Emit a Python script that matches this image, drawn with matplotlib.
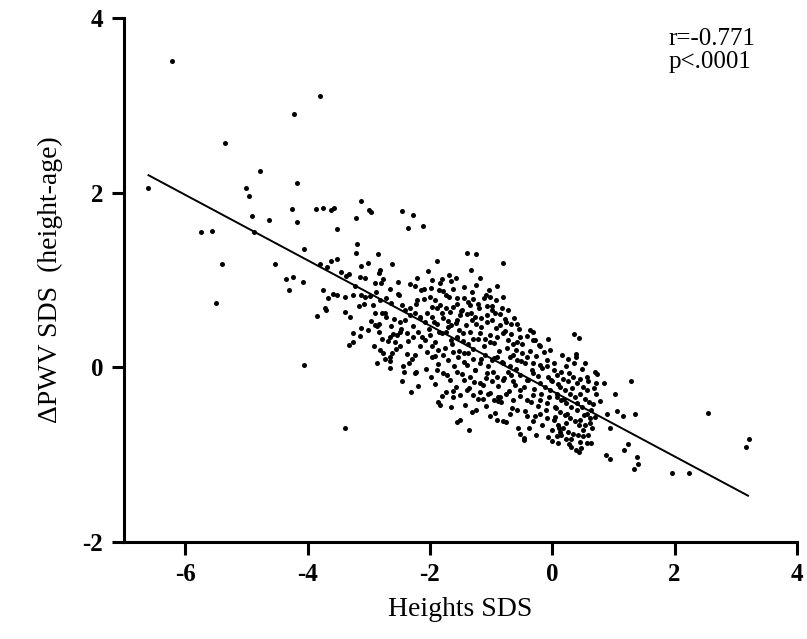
import matplotlib
matplotlib.use("Agg")
import matplotlib.pyplot as plt

plt.rcParams['font.family'] = ['Liberation Serif', 'DejaVu Serif']
plt.rcParams['axes.unicode_minus'] = False

# sparse points on the left / top
x_out = [-6.22, -3.79, -4.22, -5.35, -4.78, -4.17, -6.61, -5.00, -4.96, -4.91, -4.63,
         -4.26, -4.17, -5.75, -5.56, -5.40, -4.88, -4.54, -4.35, -4.23, -4.30, -5.50]
y_out = [3.51, 3.11, 2.90, 2.57, 2.25, 2.11, 2.05, 2.05, 1.96, 1.73, 1.69,
         1.81, 1.66, 1.55, 1.56, 1.18, 1.55, 1.18, 1.01, 1.03, 0.89, 0.74]

# main cloud, x < 0
x_a = [-3.87, -3.75, -3.61, -3.56, -3.21, -3.13, -3.00, -2.97, -2.45, -2.27, -2.36, -2.11, -3.52,
       -4.06, -3.20, -3.21, -2.85, -1.40, -1.25, -1.88, -0.80, -3.62, -3.52, -3.79, -3.68, -3.12, -2.62,
       -4.07, -3.46, -3.32, -3.14, -3.06, -2.84, -2.81, -2.90, -2.80, -2.52, -2.21, -2.03, -1.33, -1.96,
       -1.81, -1.65, -1.58, -2.25, -2.15, -2.10,
       -3.75, -3.58, -3.39, -3.66, -3.52, -3.25, -3.12, -3.06, -2.98, -2.82, -2.72, -2.63, -2.52, -2.46,
       -2.33, -2.21, -2.00, -1.92, -1.85, -1.78, -1.69, -1.56, -1.44, -1.30, -1.08, -1.02, -0.92, -1.97,
       -1.84, -1.73, -1.62, -1.48, -1.35, -1.21, -1.07, -0.99, -0.83,
       -3.72, -3.70, -3.85, -3.39, -3.16, -2.93, -2.90, -2.79, -2.71, -2.63, -2.49, -2.41, -2.33, -2.25,
       -2.16, -2.08, -1.97, -1.89, -1.81, -1.70, -1.65, -1.56, -1.51, -1.40, -1.32, -1.24, -1.16, -1.07,
       -0.99, -0.94, -0.86, -0.75, -0.67, -0.58, -2.90, -2.84,
       -3.12, -3.25, -3.33, -3.25, -3.01, -2.87, -2.79, -2.65, -2.54, -2.57, -2.49, -2.38, -2.27, -2.19,
       -2.08, -2.00, -1.92, -1.81, -1.73, -1.65, -1.56, -1.46, -1.37, -1.29, -1.18, -1.10, -1.02, -0.91,
       -0.80, -0.72, -0.64, -0.53, -0.37, -0.31, -0.20, -0.07,
       -4.06, -2.86, -2.82, -2.76, -2.65, -2.49, -2.38, -2.24, -2.16, -2.05, -1.97, -1.86, -1.78, -1.70,
       -1.62, -1.54, -1.45, -1.37, -1.29, -1.18, -1.10, -0.99, -0.91, -0.80, -0.69, -0.58, -0.50, -0.42,
       -0.31, -0.20, -0.09, -2.73, -2.65, -2.44, -2.35,
       -2.65, -2.45, -2.24, -2.22, -1.99, -1.89, -1.78, -1.67, -1.56, -1.45, -1.35, -1.26, -1.18, -1.07,
       -0.99, -0.91, -0.80, -0.72, -0.64, -0.53, -0.42, -0.31, -0.20, -0.07,
       -1.73, -1.62, -1.51, -1.40, -1.29, -1.18, -1.13, -1.05, -0.96, -0.86, -0.75, -0.64, -0.53, -0.42,
       -0.31, -0.20, -0.09, -1.84, -0.88,
       -1.24, -1.02, -0.91, -0.80, -0.69, -0.58, -0.42, -0.31, -0.20, -0.09, -1.56, -1.36, -0.53, -0.47,
       -0.26, -3.39]
y_a = [1.81, 1.83, 1.80, 1.82, 1.71, 1.91, 1.80, 1.78, 1.79, 1.74, 1.60, 1.62, 1.58,
       1.35, 1.41, 1.31, 1.30, 1.31, 1.30, 1.22, 1.19, 1.22, 1.24, 1.18, 1.15, 1.16, 1.18,
       0.98, 1.09, 1.07, 1.03, 1.02, 1.08, 1.11, 0.97, 0.97, 0.98, 1.02, 1.10, 1.11, 1.00,
       1.01, 0.99, 1.02, 0.93, 0.89, 0.90,
       0.88, 0.84, 0.81, 0.79, 0.83, 0.83, 0.83, 0.80, 0.82, 0.77, 0.79, 0.74, 0.84, 0.71,
       0.68, 0.77, 0.81, 0.77, 0.89, 0.87, 0.81, 0.79, 0.79, 0.78, 0.83, 0.81, 0.77, 0.69,
       0.71, 0.68, 0.69, 0.66, 0.71, 0.73, 0.70, 0.66, 0.68,
       0.68, 0.66, 0.59, 0.63, 0.70, 0.71, 0.62, 0.62, 0.58, 0.47, 0.52, 0.54, 0.60, 0.62,
       0.56, 0.52, 0.58, 0.50, 0.62, 0.53, 0.48, 0.54, 0.60, 0.61, 0.54, 0.50, 0.56, 0.60,
       0.54, 0.62, 0.48, 0.52, 0.50, 0.50, 0.48, 0.50,
       0.45, 0.39, 0.26, 0.29, 0.43, 0.47, 0.32, 0.35, 0.37, 0.29, 0.41, 0.39, 0.35, 0.41,
       0.31, 0.37, 0.29, 0.39, 0.41, 0.31, 0.35, 0.39, 0.27, 0.33, 0.39, 0.33, 0.29, 0.35,
       0.39, 0.31, 0.27, 0.35, 0.43, 0.31, 0.24, 0.33,
       0.03, 0.05, 0.20, 0.16, 0.12, 0.24, 0.15, 0.14, 0.24, 0.18, 0.12, 0.20, 0.14, 0.08,
       0.18, 0.12, 0.06, 0.16, 0.10, 0.05, 0.14, 0.08, 0.12, 0.05, 0.12, 0.08, 0.16, 0.12,
       0.05, 0.03, 0.08, 0.09, 0.07, 0.01, 0.05,
       -0.01, -0.16, -0.07, -0.05, -0.11, -0.03, -0.07, -0.15, -0.05, -0.15, -0.11, -0.03, -0.18, -0.07,
       -0.16, -0.11, -0.15, -0.05, -0.16, -0.09, -0.15, -0.07, -0.18, -0.11,
       -0.28, -0.34, -0.32, -0.26, -0.32, -0.28, -0.36, -0.30, -0.37, -0.34, -0.30, -0.37, -0.26, -0.37,
       -0.32, -0.37, -0.41, -0.43, -0.39,
       -0.49, -0.56, -0.60, -0.62, -0.53, -0.49, -0.56, -0.62, -0.53, -0.58, -0.63, -0.72, -0.76, -0.81,
       -0.77, -0.69]

# main cloud, x >= 0 and right tail
x_b = [0.35, 0.43, 0.26, 0.39, 0.39, 0.54, 0.70, 0.73, 0.72, 0.84, 1.28, 1.02, 0.67, 0.90, 1.06,
       1.16, 1.36, 0.95, 1.24, 1.18, 0.88, 0.94, 1.38, 1.40, 1.33, 1.95, 2.24, 2.55, 3.21, 3.17,
       0.00, 0.10, 0.14, 0.22, 0.28, 0.39, 0.43, 0.47,
       0.02, 0.07, 0.15, 0.23, 0.18, 0.26, 0.34, 0.40, 0.45, 0.51, 0.56, 0.59, 0.12, 0.21, 0.29,
       0.37, 0.45, 0.53, 0.07, 0.15, 0.23, 0.31, 0.40, 0.48, 0.56, 0.64, 0.04, 0.12, 0.21, 0.29,
       0.37, 0.45, 0.53, 0.61, 0.02, 0.10, 0.18, 0.26, 0.34, 0.42, 0.51, 0.59, 0.12, 0.23, 0.07,
       -0.01, -0.03, 0.04, 0.72, 0.78, 0.61, 0.70, 0.45, 0.51, 0.56, 0.07, 0.31, -0.01]
y_b = [0.38, 0.34, 0.09, 0.15, 0.12, 0.05, -0.05, -0.08, -0.18, -0.18, -0.16, -0.30, -0.42, -0.54, -0.50,
       -0.56, -0.54, -0.70, -0.88, -0.95, -1.00, -1.05, -1.03, -1.11, -1.16, -1.21, -1.21, -0.52, -0.82, -0.91,
       -0.84, -0.87, -0.78, -0.82, -0.88, -0.95, -0.97, -0.92,
       -0.03, -0.09, -0.05, 0.01, -0.13, -0.16, -0.11, -0.18, -0.13, -0.22, -0.26, -0.16, -0.22, -0.26, -0.30,
       -0.34, -0.30, -0.36, -0.34, -0.37, -0.41, -0.45, -0.49, -0.45, -0.53, -0.49, -0.45, -0.51, -0.55, -0.58,
       -0.62, -0.60, -0.66, -0.64, -0.60, -0.66, -0.70, -0.74, -0.76, -0.78, -0.72, -0.78, -0.74, -0.64, -0.30,
       -0.16, -0.26, -0.57, -0.30, -0.39, -0.58, -0.57, -0.85, -0.79, -0.87, -0.79, -0.91, -0.72]

# extra points filling the dense core
x_c = [-2.58, -2.55, -2.51, -2.47, -2.43, -2.40, -2.36, -2.33, -2.30, -2.27, -2.23, -2.19, -2.17, -2.13,
       -2.10, -2.07, -2.04, -2.02, -2.60, -2.31,
       -1.99, -1.96, -1.94, -1.91, -1.89, -1.87, -1.85, -1.83, -1.80, -1.78, -1.76, -1.74, -1.72, -1.70,
       -1.68, -1.66, -1.64, -1.62, -1.60, -1.58, -1.57, -1.55, -1.53, -1.52, -1.51, -1.92, -1.86, -1.69,
       -1.63, -1.56,
       -1.49, -1.47, -1.46, -1.44, -1.42, -1.41, -1.39, -1.37, -1.36, -1.34, -1.32, -1.31, -1.29, -1.27,
       -1.26, -1.24, -1.22, -1.21, -1.19, -1.17, -1.16, -1.14, -1.12, -1.11, -1.09, -1.07, -1.05, -1.04,
       -1.02, -1.01, -1.45, -1.28, -1.18, -1.08, -1.33,
       -0.99, -0.97, -0.96, -0.94, -0.92, -0.91, -0.89, -0.87, -0.86, -0.84, -0.82, -0.81, -0.79, -0.77,
       -0.76, -0.74, -0.72, -0.71, -0.69, -0.67, -0.66, -0.64, -0.62, -0.61, -0.59, -0.57, -0.56, -0.54,
       -0.52, -0.51, -0.95, -0.88, -0.78, -0.68, -0.60,
       -0.49, -0.47, -0.45, -0.44, -0.42, -0.40, -0.38, -0.37, -0.35, -0.33, -0.31, -0.30, -0.28, -0.26,
       -0.24, -0.23, -0.21, -0.19, -0.17, -0.16, -0.14, -0.12, -0.11, -0.09, -0.07, -0.05, -0.04, -0.02,
       -0.46, -0.29,
       0.03, 0.06, 0.09, 0.11, 0.16, 0.19, 0.24, 0.27, 0.30, 0.33, 0.36, 0.41, 0.44, 0.49, 0.52, 0.57,
       0.60, 0.65, 0.68, 0.63,
       -3.38, -3.30, -3.22, -3.15, -3.08, -3.02, -2.96, -2.92, -2.88, -2.83, -2.77, -2.74, -2.68, -2.66,
       -2.62]
y_c = [0.55, 0.21, 0.83, 0.44, -0.05, 0.66, 0.30, 0.95, 0.09, 0.47, 0.73, -0.21, 0.58, 0.35,
       0.78, -0.02, 0.62, 0.44, 0.38, -0.28,
       0.91, 0.25, 0.52, -0.19, 0.68, 0.04, 0.41, 0.97, -0.33, 0.57, 0.22, 0.83, -0.09, 0.46,
       0.63, -0.45, 0.27, 0.90, 0.02, 0.51, -0.22, 0.72, 0.19, 0.43, -0.60, 0.13, -0.40, 1.06,
       -0.27, 0.34,
       0.65, -0.08, 0.30, 0.92, -0.43, 0.48, 0.03, 0.75, -0.24, 0.40, 0.86, -0.51, 0.21, 0.58,
       -0.03, 0.94, 0.33, -0.36, 0.68, 0.10, 0.46, -0.20, 0.79, 0.25, -0.44, 0.52, 0.01, 0.88,
       -0.29, 0.37, 0.16, -0.17, 1.02, -0.12, 0.62,
       0.70, -0.05, 0.28, -0.52, 0.45, 0.93, -0.21, 0.19, 0.61, -0.40, 0.06, 0.80, -0.12, 0.42,
       -0.63, 0.22, 0.66, -0.27, 0.01, 0.38, -0.46, 0.14, 0.57, -0.20, -0.02, 0.29, -0.69, 0.44,
       -0.33, 0.07, 0.11, -0.34, 0.55, -0.09, 0.20,
       0.27, -0.22, -0.50, 0.05, 0.36, -0.14, -0.70, 0.19, -0.40, -0.03, 0.40, -0.25, -0.56, 0.13,
       -0.10, -0.44, 0.26, -0.30, -0.01, -0.66, 0.17, -0.23, -0.49, 0.02, -0.80, -0.34, 0.20, -0.14,
       -0.83, 0.31,
       0.05, -0.47, -0.19, -0.70, 0.14, -0.36, -0.53, -0.07, -0.82, -0.24, 0.05, -0.41, -0.66, -0.02,
       -0.55, -0.11, -0.40, -0.70, -0.24, -0.87,
       1.05, 0.58, 0.93, 0.36, 0.72, 1.20, 0.53, 0.25, 0.86, 0.41, 1.01, 0.62, 0.30, 0.90,
       0.16]

# regression line end points
line_x = [-6.6, 3.2]
line_y = [2.2, -1.47]

fig = plt.figure(figsize=(8.07, 6.39), dpi=100)
ax = fig.add_subplot(111)
fig.subplots_adjust(left=0.1537, right=0.9876, top=0.9718, bottom=0.1518)

for xs, ys in [(x_out, y_out), (x_a, y_a), (x_b, y_b), (x_c, y_c)]:
    ax.scatter(xs, ys, s=13, color='black', linewidths=0, zorder=3)
ax.plot(line_x, line_y, color='black', lw=1.4)

ax.set_xlim(-7, 4)
ax.set_ylim(-2, 4)
ax.set_xticks([-6, -4, -2, 0, 2, 4])
ax.set_yticks([-2, 0, 2, 4])
ax.spines['top'].set_visible(False)
ax.spines['right'].set_visible(False)
for sp in ['left', 'bottom']:
    ax.spines[sp].set_linewidth(2.2)
ax.tick_params(width=2.2, length=9, labelsize=18, pad=6)
for lab in ax.get_xticklabels() + ax.get_yticklabels():
    lab.set_fontweight('bold')

ax.set_xlabel('Heights SDS', fontsize=20, labelpad=8)
ax.set_ylabel('ΔPWV SDS  (height-age)', fontsize=20, labelpad=14)
ax.text(1.9, 3.88, 'r=-0.771\np<.0001', fontsize=18, va='top', ha='left', linespacing=1.05)

fig.savefig('out.png', dpi=100)
